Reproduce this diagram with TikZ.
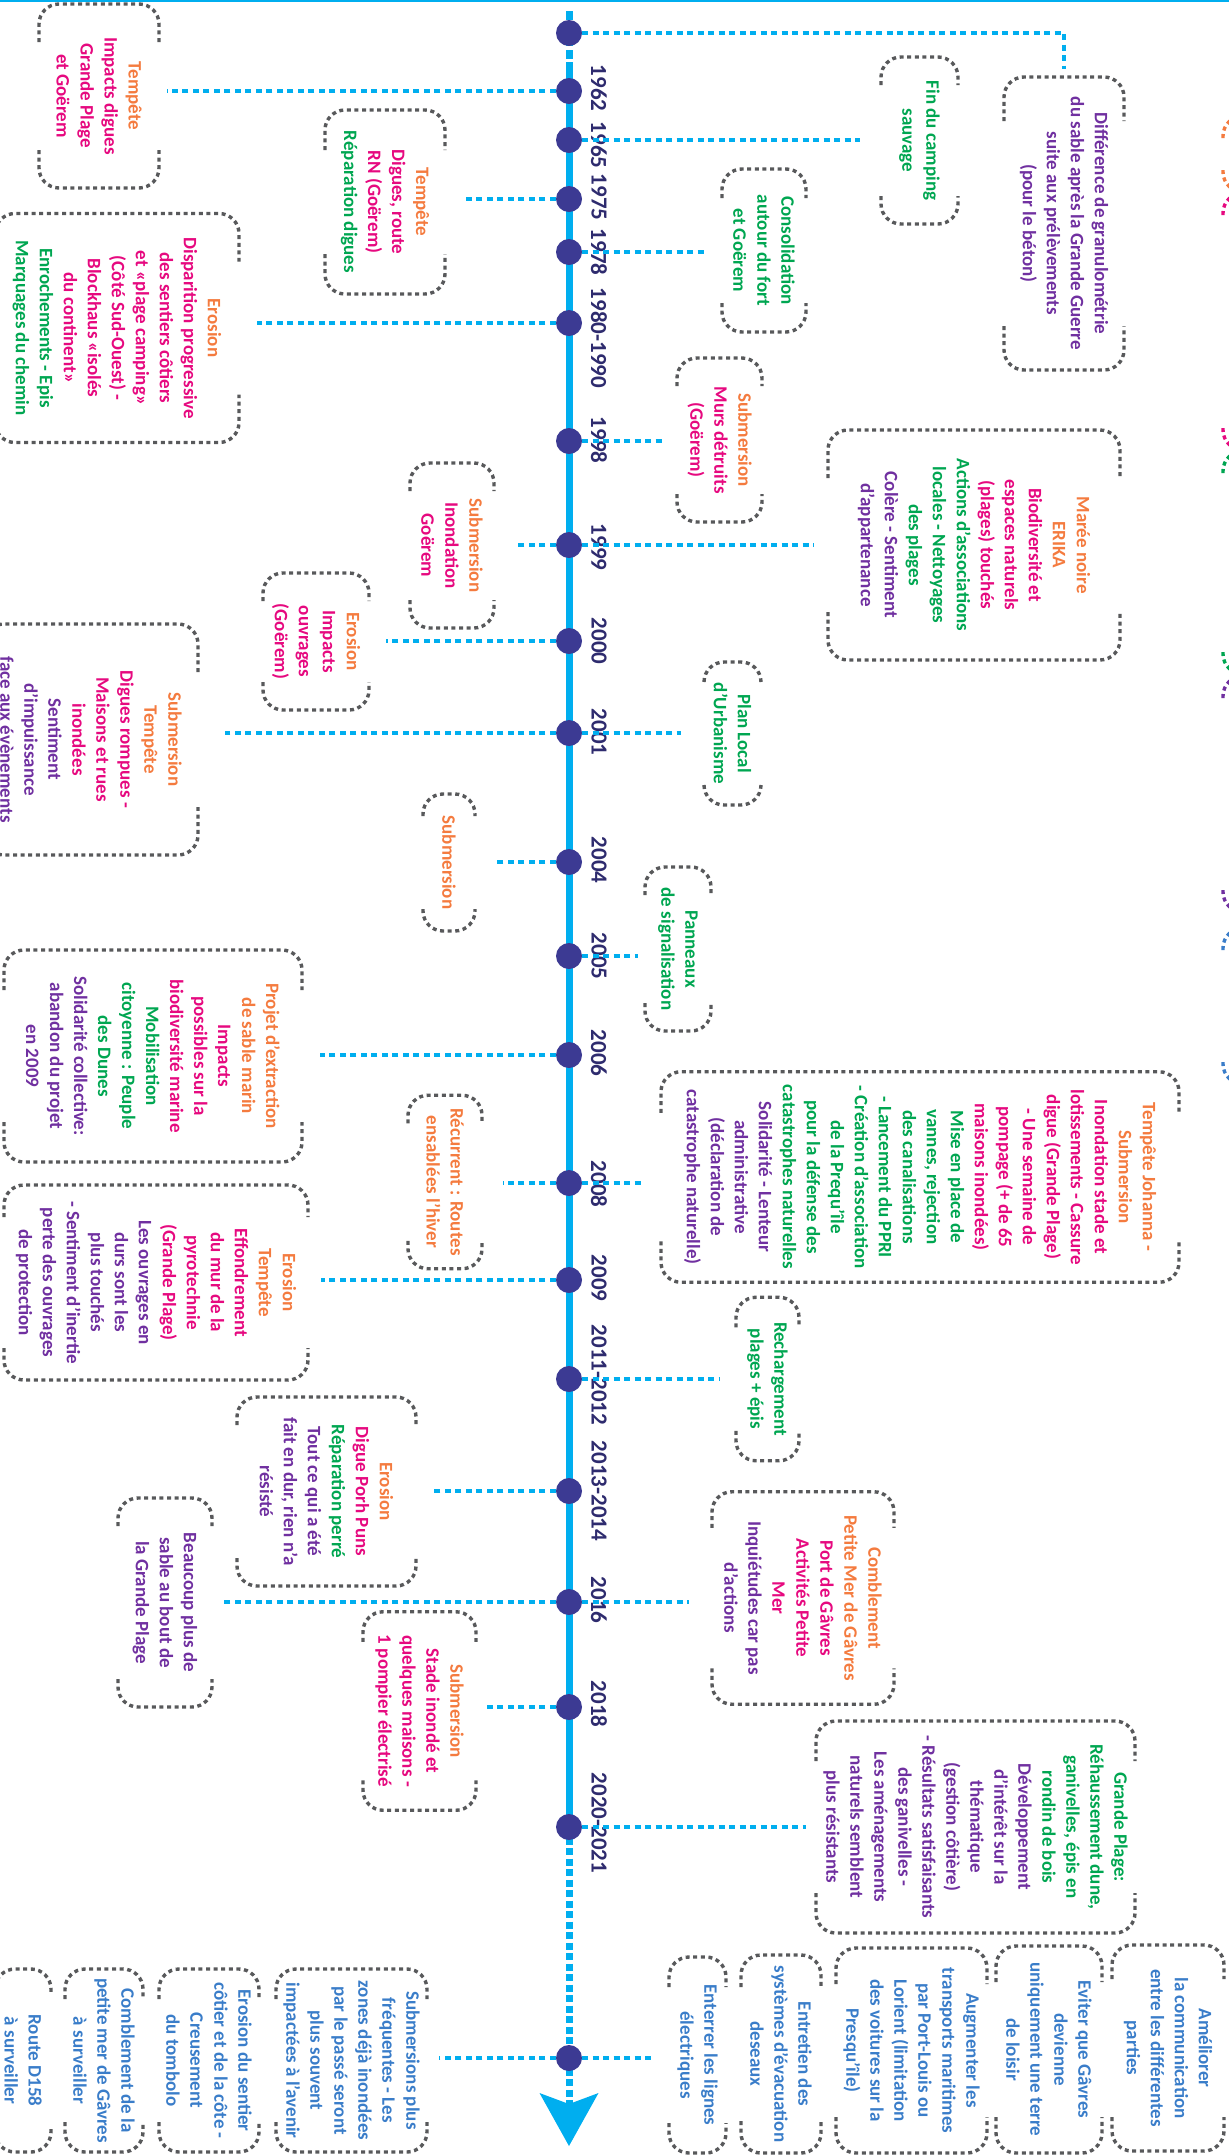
\documentclass[tikz,border=0pt]{standalone}
\usepackage{fontspec}
\setmainfont{Carlito}
\usetikzlibrary{calc,arrows.meta}

\definecolor{alea}{HTML}{F47B3F}
\definecolor{impact}{HTML}{E6097F}
\definecolor{action}{HTML}{00A651}
\definecolor{ressenti}{HTML}{7030A0}
\definecolor{avenir}{HTML}{3A7DC9}
\definecolor{annee}{HTML}{2E2B6E}
\definecolor{pointbleu}{HTML}{3C3A93}
\definecolor{cyanfrise}{HTML}{00AEEF}
\definecolor{grisbord}{HTML}{58595B}

\newcommand{\tAl}[1]{\textcolor{alea}{#1}}
\newcommand{\tIm}[1]{\textcolor{impact}{#1}}
\newcommand{\tAc}[1]{\textcolor{action}{#1}}
\newcommand{\tRe}[1]{\textcolor{ressenti}{#1}}

% dashed brackets on the two short sides of a box
\newcommand{\encadre}[2][40]{%
  \draw[bord] ($(#2.south west)!#1pt!(#2.south east)$) -- (#2.south west)
    -- (#2.north west) -- ($(#2.north west)!#1pt!(#2.north east)$);
  \draw[bord] ($(#2.south east)!#1pt!(#2.south west)$) -- (#2.south east)
    -- (#2.north east) -- ($(#2.north east)!#1pt!(#2.north west)$);
}
\newcommand{\relie}[4]{%
  \draw[lien, shorten >=#4] (#1) -- ($(#2.#3 west)!(#1)!(#2.#3 east)$);
}

\tikzset{
  bulle/.style={align=center, inner sep=0pt, outer sep=0pt,
    font=\bfseries\fontsize{19}{24}\selectfont},
  taille/.style 2 args={minimum width=#1pt, minimum height=#2pt},
  bord/.style={draw=grisbord, line width=3.4pt, dash pattern=on 4pt off 3.6pt,
    rounded corners=20pt},
  lien/.style={draw=cyanfrise, line width=4pt, dash pattern=on 6pt off 4.5pt},
  frise/.style={draw=cyanfrise, line width=7pt},
  tirets/.style={frise, dash pattern=on 9pt off 4pt},
  futur/.style={frise, dash pattern=on 7pt off 3.5pt},
  jalon/.style={circle, fill=pointbleu, minimum size=26pt, inner sep=0pt},
  millesime/.style={text=annee, inner sep=0pt,
    font=\bfseries\fontsize{23}{28}\selectfont},
}

\begin{document}
\begin{tikzpicture}[x=1pt, y=1pt]
\useasboundingbox (0,0) rectangle (1229,-2156);
\draw[cyanfrise, line width=2.5pt] (0,-1) -- (1229,-1);

\begin{scope}[rotate=-90, transform shape]
% (page y, page x)
\coordinate (haut) at (11,569);
\coordinate (trait) at (62,569);
\coordinate (fin) at (1827,569);
\coordinate (pointe) at (2146,569);
\draw[tirets] (haut) -- (trait);
\draw[frise] (trait) -- (fin);
\draw[futur, -{Stealth[length=53pt, width=59pt, inset=11pt, line width=0pt]}] (fin) -- (pointe);

\foreach \n/\y in {0/33, 62/91, 65/140, 75/199, 78/252, 80/323, 98/441, 99/545,
    00/641, 01/733, 04/862, 05/956, 06/1055, 08/1183, 09/1280, 11/1379, 13/1491,
    16/1602, 18/1707, 20/1827, f/2058}
  \node[jalon] (p\n) at (\y,569) {};

\foreach \n/\yr/\y in {62/1962/88, 65/1965/145, 75/1975/197, 78/1978/252,
    80/1980-1990/338, 98/1998/440, 99/1999/547, 00/2000/641, 01/2001/732,
    04/2004/860, 05/2005/956, 06/2006/1053, 08/2008/1184, 09/2009/1278,
    11/2011-2012/1375, 13/2013-2014/1491, 16/2016/1600, 18/2018/1704,
    20/2020-2021/1823}
  \node[millesime] (a\n) at (\y,599) {\yr};

% events
\node[bulle, taille={293}{120}, text=ressenti] (b0) at (223.5,1064)
  {Différence de granulométrie\\ du sable après la Grande Guerre\\ suite aux prélèvements\\ (pour le béton)};
\node[bulle, taille={184}{120}] (b62) at (96,99)
  {\tAl{Tempête}\\ \tIm{Impacts digues}\\ \tIm{Grande Plage}\\ \tIm{et Goërem}};
\node[bulle, taille={167}{77}, text=action] (b65) at (140.5,919.5)
  {Fin du camping\\ sauvage};
\node[bulle, taille={184}{120}] (b75) at (202,385)
  {\tAl{Tempête}\\ \tIm{Digues, route}\\ \tIm{RN (Goërem)}\\ \tAc{Réparation digues}};
\node[bulle, taille={163}{84}, text=action] (b78) at (250.5,764)
  {Consolidation\\ autour du fort\\ et Goërem};
\node[bulle, taille={229}{244}] (b80) at (328,117)
  {\tAl{Erosion}\\ \tIm{Disparition progressive}\\ \tIm{des sentiers côtiers}\\ \tIm{et «plage camping»}\\ \tIm{(Côté Sud-Ouest) -}\\ \tIm{Blockhaus «isolés}\\ \tIm{du continent»}\\ \tAc{Enrochements - Epis}\\ \tAc{Marquages du chemin}};
\node[bulle, taille={164}{85}] (b98) at (440,719.5)
  {\tAl{Submersion}\\ \tIm{Murs détruits}\\ \tIm{(Goërem)}};
\node[bulle, taille={230}{292}] (b99d) at (545,974)
  {\tAl{Marée noire}\\ \tAl{ERIKA}\\ \tIm{Biodiversité et}\\ \tIm{espaces naturels}\\ \tIm{(plages) touchés}\\ \tAc{Actions d’associations}\\ \tAc{locales - Nettoyages}\\ \tAc{des plages}\\ \tRe{Colère - Sentiment}\\ \tRe{d’appartenance}};
\node[bulle, taille={165}{84}] (b99g) at (545.5,452)
  {\tAl{Submersion}\\ \tIm{Inondation}\\ \tIm{Goërem}};
\node[bulle, taille={137}{106}] (b00) at (641.5,316)
  {\tAl{Erosion}\\ \tIm{Impacts}\\ \tIm{ouvrages}\\ \tIm{(Goërem)}};
\node[bulle, taille={231}{214}] (b01g) at (739.5,91)
  {\tAl{Submersion}\\ \tAl{Tempête}\\ \tIm{Digues rompues -}\\ \tIm{Maisons et rues}\\ \tIm{inondées}\\ \tRe{Sentiment}\\ \tRe{d’impuissance}\\ \tRe{face aux évènements}};
\node[bulle, taille={143}{57}, text=action] (b01d) at (733.5,732.5)
  {Plan Local\\ d’Urbanisme};
\node[bulle, taille={137}{52}, text=alea] (b04) at (862.5,449)
  {Submersion};
\node[bulle, taille={164}{66}, text=action] (b05) at (949,678)
  {Panneaux\\ de signalisation};
\node[bulle, taille={212}{298}] (b06) at (1056,153)
  {\tAl{Projet d’extraction}\\ \tAl{de sable marin}\\ \tIm{Impacts}\\ \tIm{possibles sur la}\\ \tIm{biodiversité marine}\\ \tAc{Mobilisation}\\ \tAc{citoyenne : Peuple}\\ \tAc{des Dunes}\\ \tRe{Solidarité collective:}\\ \tRe{abandon du projet}\\ \tRe{en 2009}};
\node[bulle, taille={173.5}{74}, text=alea] (b08g) at (1182,445)
  {Récurrent : Routes\\ ensablées l’hiver};
\node[bulle, taille={210.5}{518}] (b08d) at (1177,920)
  {\tAl{Tempête Johanna -}\\ \tAl{Submersion}\\ \tIm{Inondation stade et}\\ \tIm{lotissements - Cassure}\\ \tIm{digue (Grande Plage)}\\ \tIm{- Une semaine de}\\ \tIm{pompage (+ de 65}\\ \tIm{maisons inondées)}\\ \tAc{Mise en place de}\\ \tAc{vannes, rejection}\\ \tAc{des canalisations}\\ \tAc{- Lancement du PPRI}\\ \tAc{- Création d’association}\\ \tAc{de la Prequ’île}\\ \tAc{pour la défense des}\\ \tAc{catastrophes naturelles}\\ \tRe{Solidarité - Lenteur}\\ \tRe{administrative}\\ \tRe{(déclaration de}\\ \tRe{catastrophe naturelle)}};
\node[bulle, taille={195}{304}] (b09) at (1282.5,156)
  {\tAl{Erosion}\\ \tAl{Tempête}\\ \tIm{Effondrement}\\ \tIm{du mur de la}\\ \tIm{pyrotechnie}\\ \tIm{(Grande Plage)}\\ \tRe{Les ouvrages en}\\ \tRe{durs sont les}\\ \tRe{plus touchés}\\ \tRe{- Sentiment d’inertie}\\ \tRe{perte des ouvrages}\\ \tRe{de protection}};
\node[bulle, taille={163.5}{63}, text=action] (b11) at (1379,767.5)
  {Rechargement\\ plages + épis};
\node[bulle, taille={189}{179}] (b13) at (1491.5,326.5)
  {\tAl{Erosion}\\ \tIm{Digue Porh Puns}\\ \tAc{Réparation perré}\\ \tRe{Tout ce qui a été}\\ \tRe{fait en dur, rien n’a}\\ \tRe{résisté}};
\node[bulle, taille={212.5}{182}] (b16d) at (1598,803)
  {\tAl{Comblement}\\ \tAl{Petite Mer de Gâvres}\\ \tIm{Port de Gâvres}\\ \tIm{Activités Petite}\\ \tIm{Mer}\\ \tRe{Inquiétudes car pas}\\ \tRe{d’actions}};
\node[bulle, taille={209}{94}, text=ressenti] (b16g) at (1602.5,165)
  {Beaucoup plus de\\ sable au bout de\\ la Grande Plage};
\node[bulle, taille={198.5}{113}] (b18) at (1711,419.5)
  {\tAl{Submersion}\\ \tIm{Stade inondé et}\\ \tIm{quelques maisons -}\\ \tIm{1 pompier électrisé}};
\node[bulle, taille={212}{319}] (b20) at (1827,975.5)
  {\tAc{Grande Plage:}\\ \tAc{Réhaussement dune,}\\ \tAc{ganivelles, épis en}\\ \tAc{rondin de bois}\\ \tRe{Développement}\\ \tRe{d’intérêt sur la}\\ \tRe{thématique}\\ \tRe{(gestion côtière)}\\ \tRe{- Résultats satisfaisants}\\ \tRe{des ganivelles -}\\ \tRe{Les aménagements}\\ \tRe{naturels semblent}\\ \tRe{plus résistants}};

% future
\begin{scope}[every node/.append style={text=avenir}]
\node[bulle, taille={183}{151}] (fg1) at (2060.5,351.5)
  {Submersions plus\\ fréquentes - Les\\ zones déjà inondées\\ par le passé seront\\ plus souvent\\ impactées à l’avenir};
\node[bulle, taille={183}{100}] (fg2) at (2060.5,209)
  {Erosion du sentier\\ côtier et de la côte -\\ Creusement\\ du tombolo};
\node[bulle, taille={183}{78}] (fg3) at (2060.5,104)
  {Comblement de la\\ petite mer de Gâvres\\ à surveiller};
\node[bulle, taille={183}{56}] (fg4) at (2060.5,23)
  {Route D158\\ à surveiller};
\node[bulle, taille={196}{57}] (fd1) at (2055,697.5)
  {Enterrer les lignes\\ électriques};
\node[bulle, taille={198}{80}] (fd2) at (2054,781)
  {Entretien des\\ systèmes d’évacuation\\ deseaux};
\node[bulle, taille={205}{151}] (fd3) at (2050.5,911.5)
  {Augmenter les\\ transports maritimes\\ par Port-Louis ou\\ Lorient (limitation\\ des voitures sur la\\ Presqu’île)};
\node[bulle, taille={207}{106}] (fd4) at (2049.5,1049)
  {Eviter que Gâvres\\ devienne\\ uniquement une terre\\ de loisir};
\node[bulle, taille={206}{112}] (fd5) at (2048,1168)
  {Améliorer\\ la communication\\ entre les différentes\\ parties};
\end{scope}

\encadre[44]{b0} \encadre[38]{b62} \encadre[28]{b65} \encadre{b75}
\encadre[29]{b78} \encadre[48]{b80} \encadre[28]{b98} \encadre[48]{b99d}
\encadre[28]{b99g} \encadre[28]{b00} \encadre[48]{b01g} \encadre[20]{b01d}
\encadre[22]{b04} \encadre[28]{b05} \encadre{b06} \encadre[28]{b08g}
\encadre[41]{b08d} \encadre[32]{b09} \encadre[30]{b11} \encadre[28]{b13}
\encadre[36]{b16d} \encadre[28]{b16g} \encadre[30]{b18} \encadre{b20}
\encadre[30]{fg1} \encadre[30]{fg2} \encadre[30]{fg3} \encadre[26]{fg4}
\encadre[30]{fd1} \encadre[32]{fd2} \encadre[36]{fd3} \encadre[36]{fd4}
\encadre[34]{fd5}

% legend, cut by the page edge
\foreach \col/\h/\b in {alea/116/192, impact/193/450, action/451/674,
    ressenti/676/912, avenir/928/1084} {
  \draw[bord, draw=\col] (\h+22,1223) -- (\h,1223) -- (\h,1400);
  \draw[bord, draw=\col] (\b-22,1223) -- (\b,1223) -- (\b,1400);
}

\draw[lien, shorten >=8pt] (p0) -- ($(b0.west)!(p0)!(b0.east)$) -- (b0.west);
\relie{p62}{b62}{north}{8pt}
\relie{p65}{b65}{south}{21pt}
\relie{p75}{b75}{north}{20pt}
\relie{p78}{b78}{south}{16pt}
\relie{p80}{b80}{north}{18pt}
\relie{p98}{b98}{south}{13pt}
\relie{p99}{b99d}{south}{14pt}
\relie{p99}{b99g}{north}{24pt}
\relie{p00}{b00}{north}{17pt}
\relie{p01}{b01g}{north}{27pt}
\relie{p01}{b01d}{south}{23pt}
\relie{p04}{b04}{north}{18pt}
\relie{p05}{b05}{south}{7pt}
\relie{p06}{b06}{north}{18pt}
\relie{p08}{b08g}{north}{21pt}
\relie{p08}{b08d}{south}{16pt}
\relie{p09}{b09}{north}{13pt}
\relie{p11}{b11}{south}{17pt}
\relie{p13}{b13}{north}{17pt}
\relie{p16}{b16d}{south}{23pt}
\relie{p16}{b16g}{north}{8pt}
\relie{p18}{b18}{north}{8pt}
\relie{p20}{b20}{south}{10pt}
\relie{pf}{fg1}{north}{12pt}
\relie{pf}{fd1}{south}{14pt}
\end{scope}
\end{tikzpicture}
\end{document}
